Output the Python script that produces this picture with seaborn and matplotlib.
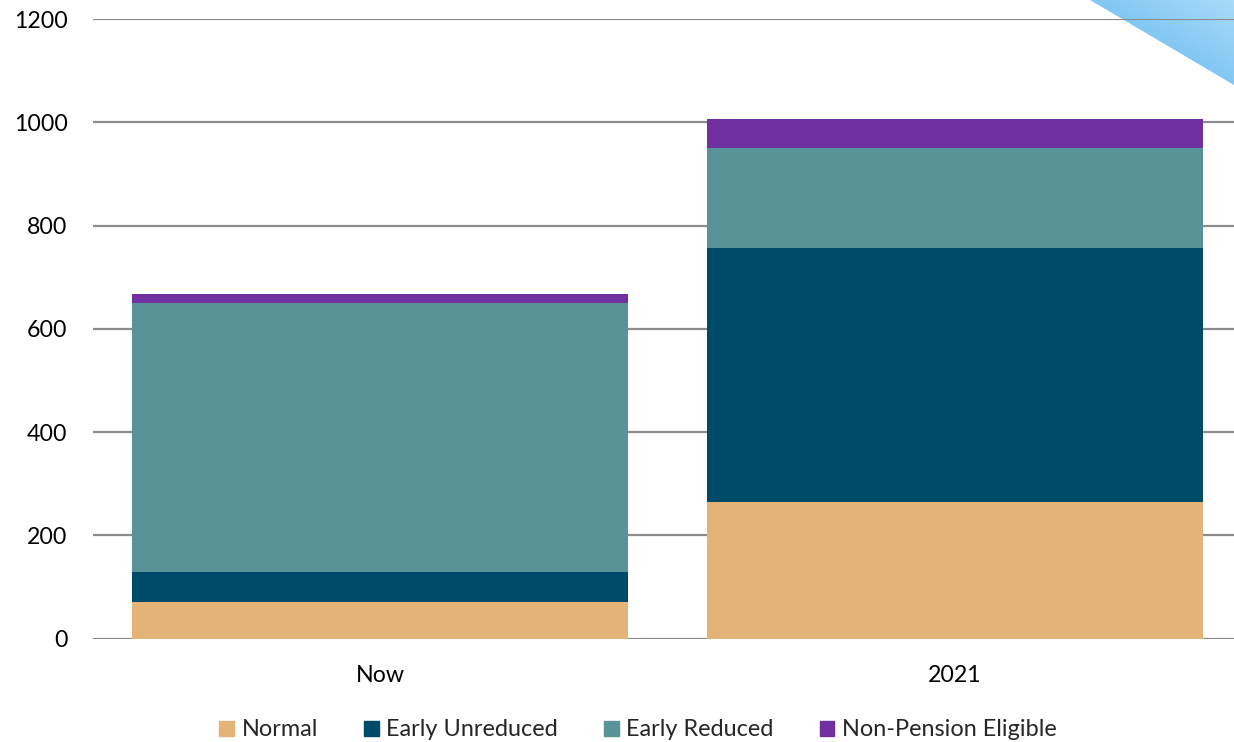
import numpy as np
import pandas as pd
import matplotlib
matplotlib.use("Agg")
import matplotlib.pyplot as plt
from matplotlib.patches import Patch, Polygon
import seaborn as sns

# Headcount by retirement status
periods = ["Now", "2021"]
series_names = ["Normal", "Early Unreduced", "Early Reduced", "Non-Pension Eligible"]
normal = [70, 265]
early_unreduced = [58, 491]
early_reduced = [523, 195]
non_pension = [16, 56]
y_ticks = [0, 200, 400, 600, 800, 1000, 1200]

colors = ["#E3B377", "#004A69", "#579399", "#7130A0"]

sns.set_theme(style="white")
plt.rcParams["font.family"] = ["Lato", "DejaVu Sans"]

fig = plt.figure(figsize=(12.34, 7.42), dpi=100)

# decorative corner triangle with a soft blue gradient
bg = fig.add_axes([0, 0, 1, 1], zorder=0)
bg.set_xlim(0, 1234)
bg.set_ylim(742, 0)
bg.axis("off")
gx, gy = np.meshgrid(np.linspace(0, 1, 200), np.linspace(0, 1, 200))
grad = (gx * 0.5 + (1 - gy) * 0.5)
cmap = matplotlib.colors.LinearSegmentedColormap.from_list("sky", ["#5BB3EE", "#A9DBFA"])
img = bg.imshow(grad, extent=(1090, 1234, 85, 0), cmap=cmap, aspect="auto", origin="upper")
tri = Polygon([(1090, 0), (1234, 0), (1234, 85)], closed=True, transform=bg.transData)
img.set_clip_path(tri)

ax = fig.add_axes([92.5 / 1234, 1 - 638.5 / 742, 1150 / 1234, 619.2 / 742], zorder=1)
ax.patch.set_alpha(0)

df = pd.DataFrame({
    "period": periods,
    "Normal": normal,
    "Early Unreduced": early_unreduced,
    "Early Reduced": early_reduced,
    "Non-Pension Eligible": non_pension,
})
cum = df[series_names].cumsum(axis=1)

# stacked bars: draw cumulative totals from the top layer down
for name, color in reversed(list(zip(series_names, colors))):
    sns.barplot(x=df["period"], y=cum[name], color=color, width=0.863,
                saturation=1, ax=ax, zorder=2, edgecolor=color, linewidth=0)

ax.set_ylim(0, 1200)
ax.set_xlim(-0.5, 1.5)
ax.set_yticks(y_ticks)
ax.set_yticklabels([str(t) for t in y_ticks])
ax.yaxis.grid(True, color="#8C8C8C", linewidth=1.6, zorder=0)
ax.set_axisbelow(True)
for s in ax.spines.values():
    s.set_visible(False)
ax.set_xlabel("")
ax.set_ylabel("")
ax.tick_params(axis="y", length=0, pad=18, labelsize=16.7, labelcolor="black")
ax.tick_params(axis="x", length=0, pad=19, labelsize=16.7, labelcolor="black")

handles = [Patch(facecolor=c, edgecolor=c, label=n) for n, c in zip(series_names, colors)]
fig.legend(handles=handles, loc="center", bbox_to_anchor=(0.517, 1 - 730 / 742),
           ncol=4, frameon=False, fontsize=16.9, handlelength=0.62, handleheight=0.62,
           handletextpad=0.32, columnspacing=1.97, borderaxespad=0, borderpad=0)

fig.savefig("out.png", dpi=100)
